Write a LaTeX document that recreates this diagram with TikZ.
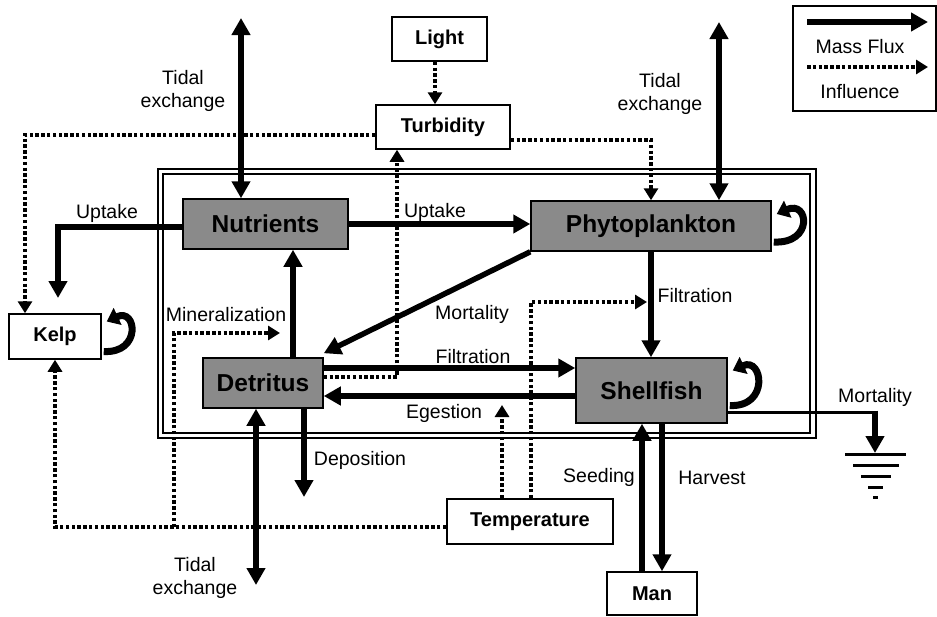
\documentclass[tikz,border=0pt]{standalone}
\usepackage{fontspec}
\setmainfont{Liberation Sans}
\usetikzlibrary{arrows.meta,calc}
\definecolor{boxgray}{RGB}{138,138,138}
\begin{document}
\begin{tikzpicture}[x=1pt,y=-1pt,
  box/.style={draw,line width=1.5pt,inner sep=0pt,font=\fontsize{20}{24}\selectfont\bfseries},
  gbox/.style={box,fill=boxgray,font=\fontsize{24.5}{29}\selectfont\bfseries},
  lbl/.style={inner sep=0pt,font=\fontsize{19.5}{23.5}\selectfont,align=center},
  flux/.style={line width=5.5pt,-{Triangle[width=18pt,length=17pt]}},
  dflux/.style={line width=5.5pt,{Triangle[width=18pt,length=17pt]}-{Triangle[width=18pt,length=17pt]}},
  infl/.style={line width=4pt,dash pattern=on 3.5pt off 2.3pt,-{Triangle[width=14pt,length=12pt]}},
  loopar/.style={line width=7pt,-{Triangle[width=18pt,length=12pt]}},
  frame/.style={line width=1.5pt},
  thinflux/.style={line width=3pt}]
\useasboundingbox (0,0) rectangle (937,616);
\fill[white] (0,0) rectangle (937,616);

% double frame
\draw[frame] (158,169) rectangle (816,438);
\draw[frame] (163,174) rectangle (810,433);

% nodes
\node[box,minimum width=95pt,minimum height=44pt] (light) at (439.5,39) {Light};
\node[box,minimum width=134pt,minimum height=44pt] (turb) at (443,127) {Turbidity};
\node[gbox,minimum width=165pt,minimum height=50pt] (nutr) at (265.5,224) {Nutrients};
\node[gbox,minimum width=240pt,minimum height=50pt] (phyto) at (651,226) {Phytoplankton};
\node[gbox,minimum width=120pt,minimum height=50pt] (detr) at (263,383) {Detritus};
\node[gbox,minimum width=151pt,minimum height=65pt] (shell) at (651.5,390.5) {Shellfish};
\node[box,minimum width=92pt,minimum height=45pt] (kelp) at (55,336.5) {Kelp};
\node[box,minimum width=166pt,minimum height=45pt] (temp) at (530,521.5) {Temperature};
\node[box,minimum width=90pt,minimum height=43pt] (man) at (652,593.5) {Man};
\node[draw,line width=1.5pt,minimum width=143pt,minimum height=105pt,inner sep=0pt] (legend) at (864.5,58.5) {};

% tidal exchanges
\coordinate (tl) at (241,18);
\draw[dflux] (tl) -- (tl |- nutr.north);
\coordinate (tr) at (719,22);
\draw[dflux] (tr) -- (tr |- phyto.north);
\coordinate (ds) at ([xshift=-7pt]detr.south);
\coordinate (tb) at (256,585);
\draw[dflux] (ds) -- (tb);

% light -> turbidity
\coordinate (lts) at ([xshift=-4.5pt]light.south);
\draw[infl] (lts) -- (lts |- turb.north);
% turbidity -> kelp, phyto
\coordinate (tw) at ([yshift=-8pt]turb.west);
\coordinate (kn) at ([xshift=-30pt]kelp.north);
\draw[infl] (tw) -| (kn);
\coordinate (te) at ([yshift=-13pt]turb.east);
\draw[infl] (te) -| (phyto.north);

% uptakes
\coordinate (nw) at ([yshift=-3pt]nutr.west);
\coordinate (ku) at (58,298);
\draw[flux] (nw) -| (ku);
\draw[flux] (nutr.east) -- (nutr.east -| phyto.west);

% detritus -> nutrients
\coordinate (dn) at ([xshift=30pt]detr.north);
\draw[flux] (dn) -- (dn |- nutr.south);
% phyto -> detritus
\draw[flux] (phyto.south west) -- ([yshift=4pt]detr.north east);
% phyto -> shellfish
\draw[flux] (phyto.south) -- (phyto.south |- shell.north);

% detritus -> turbidity
\coordinate (de) at ([yshift=6pt]detr.east);
\coordinate (ts) at ([xshift=-46pt]turb.south);
\draw[infl] (de) -| (ts);

% filtration / egestion
\coordinate (df) at ([yshift=15pt]detr.east);
\draw[flux] (df) -- (df -| shell.west);
\coordinate (dg) at ([yshift=-13pt]detr.east);
\draw[flux] (dg -| shell.west) -- (dg);

% deposition
\coordinate (dd) at ([xshift=41pt]detr.south);
\coordinate (dep) at (304,497);
\draw[flux] (dd) -- (dep);

% temperature influences
\coordinate (tmw) at ([yshift=-5.5pt]temp.west);
\draw[infl] (tmw) -| (kelp.south);
\coordinate (mj) at (174,527);
\coordinate (mi) at (280,333);
\draw[infl] (mj) |- (mi);
\coordinate (tn1) at ([xshift=-28pt]temp.north);
\coordinate (egt) at (502,405);
\draw[infl] (tn1) -- (egt);
\coordinate (tn2) at ([xshift=1pt]temp.north);
\coordinate (ft) at (647,302);
\draw[infl] (tn2) |- (ft);

% man
\coordinate (mn) at ([xshift=-10pt]man.north);
\draw[flux] (mn) -- (mn |- shell.south);
\coordinate (ss) at ([xshift=10.5pt]shell.south);
\draw[flux] (ss) -- (ss |- man.north);

% shellfish mortality to ground
\coordinate (se) at ([yshift=-21.5pt]shell.east);
\coordinate (mc) at (875,412);
\coordinate (gnd) at (875,453);
\draw[thinflux] (se) -- ([xshift=2.75pt]mc);
\draw[flux] ([yshift=1.5pt]mc) -- (gnd);
\draw[thinflux] ($(gnd)+(-30,1)$) -- ($(gnd)+(31,1)$);
\draw[thinflux] ($(gnd)+(-22,12)$) -- ($(gnd)+(24,12)$);
\draw[thinflux] ($(gnd)+(-14,23)$) -- ($(gnd)+(16,23)$);
\draw[thinflux] ($(gnd)+(-7,34)$) -- ($(gnd)+(8,34)$);
\draw[thinflux] ($(gnd)+(-2,44)$) -- ($(gnd)+(3,44)$);

% self loops
\draw[loopar] ($(phyto.east)+(2,16)$) .. controls +(40,2) and +(32,-14) .. ($(phyto.east)+(5,-12)$);
\draw[loopar] ($(kelp.east)+(2,15)$) .. controls +(38,2) and +(30,-14) .. ($(kelp.east)+(5,-15)$);
\draw[loopar] ($(shell.east)+(2,15)$) .. controls +(40,2) and +(30,-14) .. ($(shell.east)+(5,-20)$);

% legend
\coordinate (l1a) at (807,22);
\coordinate (l1b) at (928,22);
\draw[flux] (l1a) -- (l1b);
\coordinate (l2a) at (807,67);
\coordinate (l2b) at (928,67);
\draw[infl] (l2a) -- (l2b);
\node[lbl] (lmass) at (860,47) {Mass Flux};
\node[lbl] (linfl) at (860,92) {Influence};

% labels
\node[lbl] (ltl) at (183,91) {Tidal\\exchange};
\node[lbl] (ltr) at (660,94) {Tidal\\exchange};
\node[lbl] (ltb) at (195,578) {Tidal\\exchange};
\node[lbl] (lup1) at (107,213) {Uptake};
\node[lbl] (lup2) at (435,212) {Uptake};
\node[lbl] (lmin) at (226,315) {Mineralization};
\node[lbl] (lmort) at (472,314) {Mortality};
\node[lbl] (lfil1) at (695,296) {Filtration};
\node[lbl] (lfil2) at (473,357) {Filtration};
\node[lbl] (legs) at (444,413) {Egestion};
\node[lbl] (ldep) at (360,460) {Deposition};
\node[lbl] (lseed) at (599,477) {Seeding};
\node[lbl] (lharv) at (712,478) {Harvest};
\node[lbl] (lmort2) at (875,397) {Mortality};
\end{tikzpicture}
\end{document}
